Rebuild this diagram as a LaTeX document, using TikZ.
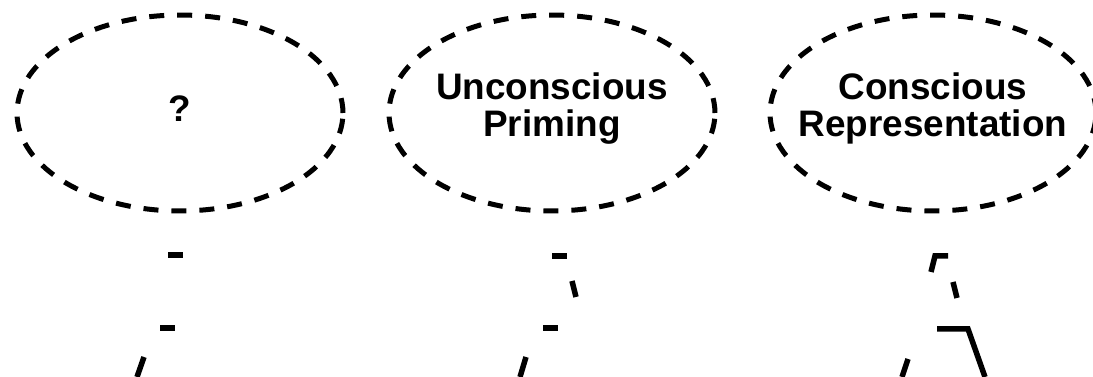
\documentclass[tikz,border=0pt]{standalone}
\usepackage{fontspec}
\setmainfont{Liberation Sans}
\usetikzlibrary{shapes.geometric}
\begin{document}
\begin{tikzpicture}[x=0.02cm, y=-0.02cm,
  blob/.style={draw, ellipse, dash pattern=on 0.3cm off 0.26cm, line width=0.1cm, minimum width=6.52cm, minimum height=3.92cm, inner sep=0pt},
  tag/.style={align=center, yshift=2.5pt, font=\fontsize{21}{21}\selectfont\bfseries},
  bit/.style={line width=0.11cm}
]
\clip (0,0) rectangle (1093,377);
\node[blob, label={[tag]center:?}] (unk) at (180,113) {};
\node[blob, label={[tag]center:Unconscious\\Priming}] (prime) at (552,113) {};
\node[blob, label={[tag]center:Conscious\\Representation}] (consc) at (933,113) {};
% cut-off pieces below the ellipses
\draw[bit] (168,255) -- (183,255);
\draw[bit] (160,328) -- (175,328);
\draw[bit] (144,357) -- (137,377);
\draw[bit] (552,256) -- (567,256);
\draw[bit] (572,281) -- (576,297);
\draw[bit] (543,328) -- (558,328);
\draw[bit] (526,357) -- (520,377);
\draw[bit] (948,256) -- (935,256) -- (931,272);
\draw[bit] (953,282) -- (957,298);
\draw[bit] (937,329) -- (968,329) -- (985,377);
\draw[bit] (908,359) -- (902,377);
\end{tikzpicture}
\end{document}
